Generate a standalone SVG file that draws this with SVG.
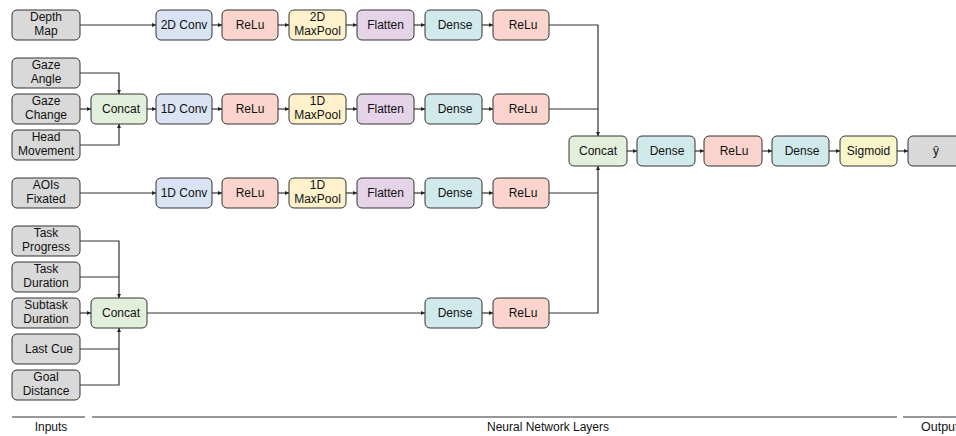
<svg xmlns="http://www.w3.org/2000/svg" width="956" height="436" viewBox="0 0 956 436">
<defs>
<marker id="ah" viewBox="0 0 6 6" refX="6" refY="3" markerWidth="4" markerHeight="4" orient="auto" markerUnits="userSpaceOnUse">
<path d="M0,0 L6,3 L0,6 Z" fill="#222"/>
</marker>
<style>
.n rect{stroke:#333;stroke-width:1;}
.in{fill:#d9d9d9}
.cat{fill:#e2efda}
.conv{fill:#dae3f3}
.relu{fill:#fbd5cd}
.pool{fill:#fff1cc}
.flat{fill:#e5d3e8}
.dense{fill:#d2e9ec}
.sig{fill:#f9f6cc}
text{font-family:"Liberation Sans",Arial,sans-serif;font-size:12px;fill:#111;text-anchor:middle}
.c path{fill:none;stroke:#333;stroke-width:1.2}
.a{marker-end:url(#ah)}
.ax line{stroke:#333;stroke-width:1.2}
</style>
</defs>
<rect width="956" height="436" fill="#fff"/>

<g class="c" id="connectors">
<path class="a" d="M80,25 H156"/>
<path class="a" d="M212,25 H222"/>
<path class="a" d="M278,25 H289"/>
<path class="a" d="M346,25 H357"/>
<path class="a" d="M414,25 H425"/>
<path class="a" d="M482,25 H493"/>
<path class="a" d="M549,25 H598 V136"/>
<path class="a" d="M80,73 H119 V94"/>
<path class="a" d="M80,109 H91"/>
<path class="a" d="M80,145 H119 V124"/>
<path class="a" d="M147,109 H156"/>
<path class="a" d="M212,109 H222"/>
<path class="a" d="M278,109 H289"/>
<path class="a" d="M346,109 H357"/>
<path class="a" d="M414,109 H425"/>
<path class="a" d="M482,109 H493"/>
<path d="M549,109 H598"/>
<path class="a" d="M80,193 H156"/>
<path class="a" d="M212,193 H222"/>
<path class="a" d="M278,193 H289"/>
<path class="a" d="M346,193 H357"/>
<path class="a" d="M414,193 H425"/>
<path class="a" d="M482,193 H493"/>
<path d="M549,193 H598"/>
<path class="a" d="M549,313 H598 V166"/>
<path class="a" d="M80,241 H119 V298"/>
<path d="M80,277 H119"/>
<path class="a" d="M80,313 H91"/>
<path d="M80,349 H119"/>
<path class="a" d="M80,385 H119 V328"/>
<path class="a" d="M147,313 H425"/>
<path class="a" d="M482,313 H493"/>
<path class="a" d="M627,151 H637"/>
<path class="a" d="M695,151 H704"/>
<path class="a" d="M762,151 H772"/>
<path class="a" d="M829,151 H840"/>
<path class="a" d="M897,151 H908"/>
</g>

<g class="n">
<g id="in-depth"><rect class="in" x="12" y="10" width="68" height="30" rx="5"/><text x="46" y="21">Depth</text><text x="46" y="35">Map</text></g>
<g id="in-gazeangle"><rect class="in" x="12" y="58" width="68" height="30" rx="5"/><text x="46" y="69">Gaze</text><text x="46" y="83">Angle</text></g>
<g id="in-gazechange"><rect class="in" x="12" y="94" width="68" height="30" rx="5"/><text x="46" y="105">Gaze</text><text x="46" y="119">Change</text></g>
<g id="in-head"><rect class="in" x="12" y="130" width="68" height="30" rx="5"/><text x="46" y="141">Head</text><text x="46" y="155">Movement</text></g>
<g id="in-aois"><rect class="in" x="12" y="178" width="68" height="30" rx="5"/><text x="46" y="189">AOIs</text><text x="46" y="203">Fixated</text></g>
<g id="in-taskprog"><rect class="in" x="12" y="226" width="68" height="30" rx="5"/><text x="46" y="237">Task</text><text x="46" y="251">Progress</text></g>
<g id="in-taskdur"><rect class="in" x="12" y="262" width="68" height="30" rx="5"/><text x="46" y="273">Task</text><text x="46" y="287">Duration</text></g>
<g id="in-subtask"><rect class="in" x="12" y="298" width="68" height="30" rx="5"/><text x="46" y="309">Subtask</text><text x="46" y="323">Duration</text></g>
<g id="in-lastcue"><rect class="in" x="12" y="334" width="68" height="30" rx="5"/><text x="49" y="353">Last Cue</text></g>
<g id="in-goal"><rect class="in" x="12" y="370" width="68" height="30" rx="5"/><text x="46" y="381">Goal</text><text x="46" y="395">Distance</text></g>

<g id="concat-gaze"><rect class="cat" x="91" y="94" width="56" height="30" rx="5"/><text x="121" y="113">Concat</text></g>
<g id="concat-task"><rect class="cat" x="91" y="298" width="56" height="30" rx="5"/><text x="121" y="317">Concat</text></g>

<g id="r1-conv"><rect class="conv" x="156" y="10" width="56" height="30" rx="5"/><text x="184" y="29">2D Conv</text></g>
<g id="r1-relu"><rect class="relu" x="222" y="10" width="56" height="30" rx="5"/><text x="250" y="29">ReLu</text></g>
<g id="r1-pool"><rect class="pool" x="289" y="10" width="57" height="30" rx="5"/><text x="317.5" y="21">2D</text><text x="317.5" y="35">MaxPool</text></g>
<g id="r1-flat"><rect class="flat" x="357" y="10" width="57" height="30" rx="5"/><text x="385.5" y="29">Flatten</text></g>
<g id="r1-dense"><rect class="dense" x="425" y="10" width="57" height="30" rx="5"/><text x="455" y="29">Dense</text></g>
<g id="r1-relu2"><rect class="relu" x="493" y="10" width="56" height="30" rx="5"/><text x="523" y="29">ReLu</text></g>

<g id="r2-conv"><rect class="conv" x="156" y="94" width="56" height="30" rx="5"/><text x="184" y="113">1D Conv</text></g>
<g id="r2-relu"><rect class="relu" x="222" y="94" width="56" height="30" rx="5"/><text x="250" y="113">ReLu</text></g>
<g id="r2-pool"><rect class="pool" x="289" y="94" width="57" height="30" rx="5"/><text x="317.5" y="105">1D</text><text x="317.5" y="119">MaxPool</text></g>
<g id="r2-flat"><rect class="flat" x="357" y="94" width="57" height="30" rx="5"/><text x="385.5" y="113">Flatten</text></g>
<g id="r2-dense"><rect class="dense" x="425" y="94" width="57" height="30" rx="5"/><text x="455" y="113">Dense</text></g>
<g id="r2-relu2"><rect class="relu" x="493" y="94" width="56" height="30" rx="5"/><text x="523" y="113">ReLu</text></g>

<g id="r3-conv"><rect class="conv" x="156" y="178" width="56" height="30" rx="5"/><text x="184" y="197">1D Conv</text></g>
<g id="r3-relu"><rect class="relu" x="222" y="178" width="56" height="30" rx="5"/><text x="250" y="197">ReLu</text></g>
<g id="r3-pool"><rect class="pool" x="289" y="178" width="57" height="30" rx="5"/><text x="317.5" y="189">1D</text><text x="317.5" y="203">MaxPool</text></g>
<g id="r3-flat"><rect class="flat" x="357" y="178" width="57" height="30" rx="5"/><text x="385.5" y="197">Flatten</text></g>
<g id="r3-dense"><rect class="dense" x="425" y="178" width="57" height="30" rx="5"/><text x="455" y="197">Dense</text></g>
<g id="r3-relu2"><rect class="relu" x="493" y="178" width="56" height="30" rx="5"/><text x="523" y="197">ReLu</text></g>

<g id="r4-dense"><rect class="dense" x="425" y="298" width="57" height="30" rx="5"/><text x="455" y="317">Dense</text></g>
<g id="r4-relu"><rect class="relu" x="493" y="298" width="56" height="30" rx="5"/><text x="523" y="317">ReLu</text></g>

<g id="m-concat"><rect class="cat" x="569" y="136" width="58" height="30" rx="5"/><text x="598" y="155">Concat</text></g>
<g id="m-dense1"><rect class="dense" x="637" y="136" width="58" height="30" rx="5"/><text x="667" y="155">Dense</text></g>
<g id="m-relu"><rect class="relu" x="704" y="136" width="58" height="30" rx="5"/><text x="734" y="155">ReLu</text></g>
<g id="m-dense2"><rect class="dense" x="772" y="136" width="57" height="30" rx="5"/><text x="802" y="155">Dense</text></g>
<g id="m-sig"><rect class="sig" x="840" y="136" width="57" height="30" rx="5"/><text x="868.5" y="155">Sigmoid</text></g>
<g id="m-out"><rect class="in" x="908" y="136" width="58" height="30" rx="5"/><text x="936" y="155">ŷ</text></g>
</g>

<g id="axis" class="ax">
<line x1="12" y1="417" x2="85" y2="417"/>
<line x1="92" y1="417" x2="897" y2="417"/>
<line x1="903" y1="417" x2="970" y2="417"/>
<text x="51" y="431">Inputs</text>
<text x="548" y="431">Neural Network Layers</text>
<text x="921" y="431" style="text-anchor:start;font-size:12.5px">Output</text>
</g>
</svg>
